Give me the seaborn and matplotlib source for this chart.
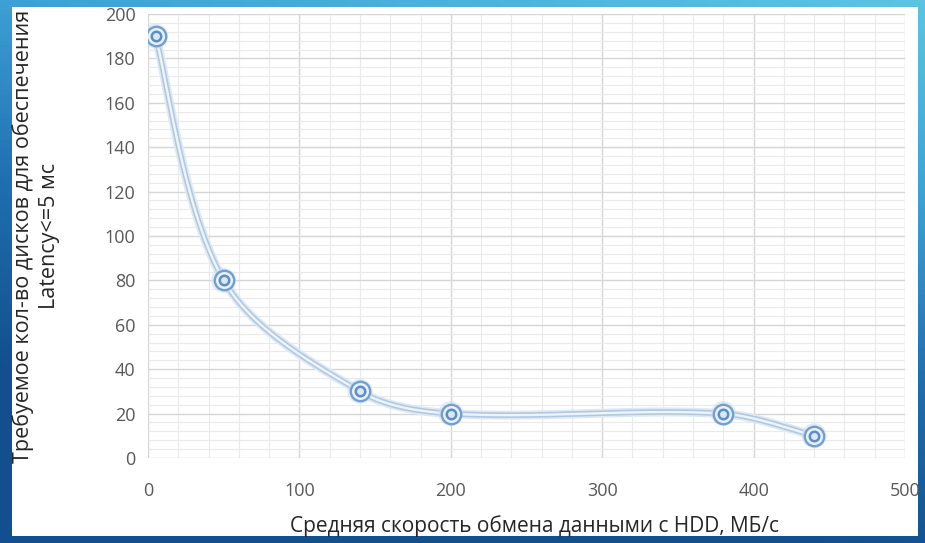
import numpy as np
import pandas as pd
import matplotlib
matplotlib.use("Agg")
import matplotlib.pyplot as plt
from matplotlib.ticker import MultipleLocator
from matplotlib.patches import Rectangle
import seaborn as sns

# Data: average HDD throughput vs. disks needed for latency <= 5 ms
speed_mbps = [5, 50, 140, 200, 380, 440]
disks_needed = [190, 80, 30, 20, 20, 10]

x_ticks = [0, 100, 200, 300, 400, 500]
y_ticks = [0, 20, 40, 60, 80, 100, 120, 140, 160, 180, 200]

x_label = "Средняя скорость обмена данными с HDD, МБ/с"
y_label = "Требуемое кол-во дисков для обеспечения\nLatency<=5 мс"

W, H = 925, 543
AX_LEFT, AX_RIGHT, AX_TOP, AX_BOTTOM = 148, 905, 14, 458
X_MAX, Y_MAX = 500, 200


def smooth_curve(xs, ys, n=80):
    """Cubic Bezier smoothing with chord-length scaled tangents, done in
    screen units so the shape follows the drawn aspect ratio."""
    sx = (AX_RIGHT - AX_LEFT) / X_MAX
    sy = (AX_BOTTOM - AX_TOP) / Y_MAX
    pts = np.column_stack([np.asarray(xs) * sx, np.asarray(ys) * sy]).astype(float)
    out = []
    for i in range(len(pts) - 1):
        p1, p2 = pts[i], pts[i + 1]
        d12 = np.linalg.norm(p2 - p1)
        if i > 0:
            p0 = pts[i - 1]
            k1 = d12 / (np.linalg.norm(p1 - p0) + d12) / 3.0
        else:
            p0, k1 = p1, 1 / 6
        if i + 2 < len(pts):
            p3 = pts[i + 2]
            k2 = d12 / (np.linalg.norm(p3 - p2) + d12) / 3.0
        else:
            p3, k2 = p2, 1 / 6
        c1 = p1 + (p2 - p0) * k1
        c2 = p2 - (p3 - p1) * k2
        t = np.linspace(0, 1, n)[:, None]
        seg = ((1 - t) ** 3) * p1 + 3 * ((1 - t) ** 2) * t * c1 \
            + 3 * (1 - t) * t ** 2 * c2 + t ** 3 * p2
        out.append(seg if i == 0 else seg[1:])
    res = np.vstack(out)
    return res[:, 0] / sx, res[:, 1] / sy


sns.set_theme(style="white")
plt.rcParams["font.family"] = ["Open Sans", "DejaVu Sans"]

fig = plt.figure(figsize=(W / 100, H / 100), dpi=100)

# Slide frame: light cyan at the top fading to deep blue at the bottom left
bg = fig.add_axes([0, 0, 1, 1], zorder=-10)
gx, gy = np.meshgrid(np.linspace(0, 1, 200), np.linspace(0, 1, 120))
darkness = np.clip(0.95 * gy + 0.35 * (1 - gx), 0, 1)
cmap = matplotlib.colors.LinearSegmentedColormap.from_list(
    "frame", ["#5cc4e2", "#3ea2d8", "#1f6fb0", "#124f8e"])
bg.imshow(darkness, cmap=cmap, aspect="auto", extent=[0, 1, 0, 1], origin="upper")
bg.add_patch(Rectangle((12 / W, 1 - 536 / H), (918 - 12) / W, (536 - 7) / H,
                       facecolor="white", edgecolor="none"))
bg.set_xlim(0, 1)
bg.set_ylim(0, 1)
bg.axis("off")

ax = fig.add_axes([AX_LEFT / W, 1 - AX_BOTTOM / H,
                   (AX_RIGHT - AX_LEFT) / W, (AX_BOTTOM - AX_TOP) / H])
ax.set_facecolor("none")

cx, cy = smooth_curve(speed_mbps, disks_needed)
curve_df = pd.DataFrame({"x": cx, "y": cy})
points_df = pd.DataFrame({"x": speed_mbps, "y": disks_needed})

# Double-stroke smoothed line with a soft halo
sns.lineplot(data=curve_df, x="x", y="y", sort=False, estimator=None, ax=ax,
             color="#dde9f5", linewidth=6.5, zorder=2)
sns.lineplot(data=curve_df, x="x", y="y", sort=False, estimator=None, ax=ax,
             color="#b0c8e1", linewidth=4.0, zorder=3)
sns.lineplot(data=curve_df, x="x", y="y", sort=False, estimator=None, ax=ax,
             color="#eef4fa", linewidth=1.7, zorder=4)

# Ring markers
sns.scatterplot(data=points_df, x="x", y="y", ax=ax, s=18 ** 2, marker="o",
                color="#cfe0f2", edgecolor="none", alpha=0.6, zorder=5)
sns.scatterplot(data=points_df, x="x", y="y", ax=ax, s=14 ** 2, marker="o",
                color="#e8f0f9", edgecolor="#729fd1", linewidth=1.7, zorder=6)
sns.scatterplot(data=points_df, x="x", y="y", ax=ax, s=6.8 ** 2, marker="o",
                color="#dae7f5", edgecolor="#5d8ec8", linewidth=1.8, zorder=7)

ax.set_xlim(0, X_MAX)
ax.set_ylim(0, Y_MAX)
ax.set_xticks(x_ticks)
ax.set_yticks(y_ticks)
ax.xaxis.set_minor_locator(MultipleLocator(20))
ax.yaxis.set_minor_locator(MultipleLocator(4))
ax.grid(which="major", color="#d6d6d6", linewidth=1.0, zorder=0)
ax.grid(which="minor", color="#eaeaea", linewidth=0.8, zorder=0)
ax.set_axisbelow(True)
for s in ax.spines.values():
    s.set_visible(False)

ax.tick_params(axis="both", which="both", length=0, labelsize=13, labelcolor="#595959")
ax.tick_params(axis="x", pad=17)
ax.tick_params(axis="y", pad=9)

ax.set_xlabel(x_label, fontsize=15, color="#262626", va="center")
ax.xaxis.set_label_coords((535 - AX_LEFT) / (AX_RIGHT - AX_LEFT),
                          (AX_BOTTOM - 526) / (AX_BOTTOM - AX_TOP))
ax.set_ylabel(y_label, fontsize=15.5, color="#262626", va="center", ha="center",
              multialignment="center", linespacing=1.3)
ax.yaxis.set_label_coords((36 - AX_LEFT) / (AX_RIGHT - AX_LEFT), 0.5)

fig.savefig("out.png", dpi=100)
